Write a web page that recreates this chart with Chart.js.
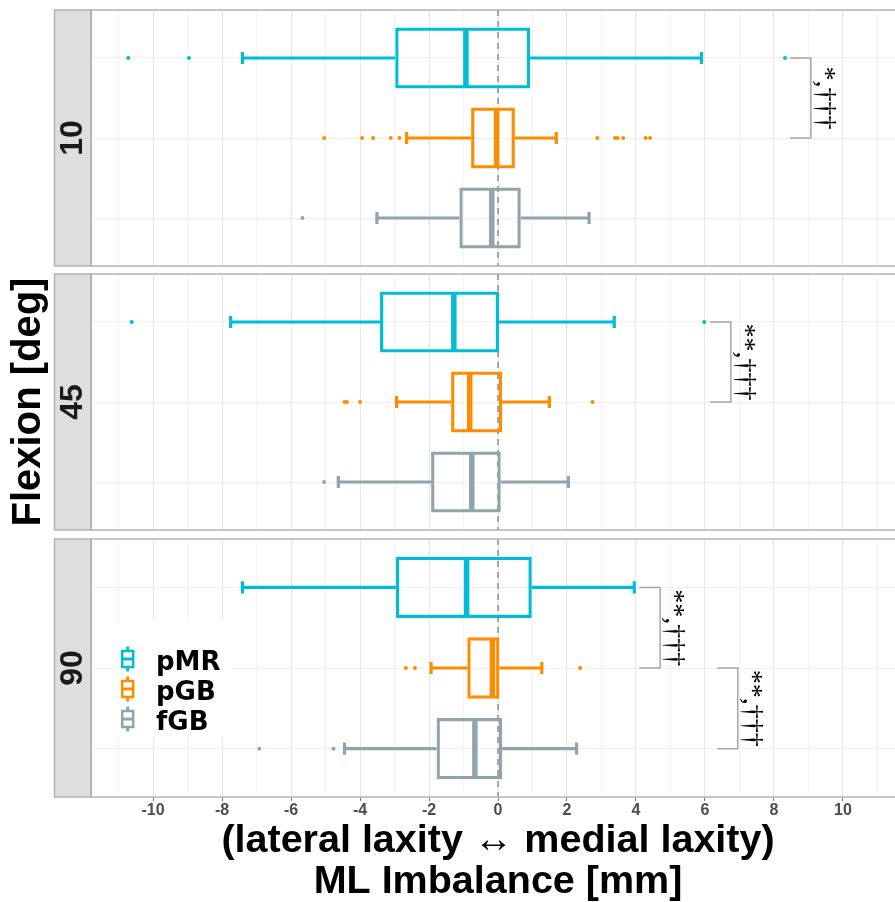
<!DOCTYPE html>
<html>
<head>
<meta charset="utf-8">
<title>ML Imbalance by flexion angle</title>
<script src="https://cdn.jsdelivr.net/npm/chart.js@4.4.1/dist/chart.umd.min.js"></script>
<style>
  html, body { margin: 0; padding: 0; background: #fff; width: 895px; height: 902px; overflow: hidden; position: relative; }
  canvas { position: absolute; left: 0; }
</style>
</head>
<body>
<canvas id="panel10" width="910" height="264" style="top:6px"></canvas>
<canvas id="panel45" width="910" height="264" style="top:270px"></canvas>
<canvas id="panel90" width="910" height="372" style="top:535px"></canvas>
<script>
const groups = ['pMR', 'pGB', 'fGB'];
const colors = ['#00BCD4', '#FF8C00', '#90A4AE'];
const xTickLabels = [-10, -8, -6, -4, -2, 0, 2, 4, 6, 8, 10];

// rows: pMR, pGB, fGB -> [lower whisker, Q1, median, Q3, upper whisker]
const box10 = [[-7.41, -2.98, -0.93, 0.93, 5.90], [-2.65, -0.78, -0.04, 0.49, 1.69], [-3.51, -1.12, -0.18, 0.66, 2.64]];
const box45 = [[-7.75, -3.42, -1.28, 0.03, 3.37], [-2.94, -1.36, -0.82, 0.12, 1.49], [-4.63, -1.94, -0.76, 0.08, 2.04]];
const box90 = [[-7.41, -2.96, -0.91, 0.98, 3.95], [-1.94, -0.89, -0.16, 0.04, 1.27], [-4.45, -1.78, -0.67, 0.12, 2.28]];

const out10 = [[-10.72, -8.96, 8.32], [-5.04, -3.94, -3.62, -3.11, -2.86, 2.88, 3.39, 3.47, 3.63, 4.28, 4.41], [-5.67]];
const out45 = [[-10.62, 5.98], [-4.45, -4.38, -4.0, 2.74], [-5.04]];
const out90 = [[], [-2.67, -2.41, 2.38], [-6.92, -4.77]];

// significance brackets: [group a, group b, bracket start, bracket end, label]
const sig10 = [[0, 1, 8.47, 9.07, '*,†††']];
const sig45 = [[0, 1, 6.15, 6.75, '**,†††']];
const sig90 = [[0, 1, 4.10, 4.70, '**,†††'], [1, 2, 6.36, 6.95, '**,†††']];

Chart.defaults.font.family = '"Liberation Sans", Arial, sans-serif';

const isEven = c => c.tick && c.tick.value % 2 === 0;

function drawLegend(ctx) {
  ctx.save();
  ctx.fillStyle = '#fff';
  ctx.fillRect(116, 86, 116, 117);
  groups.forEach((g, i) => {
    const cy = 124 + i * 30;
    ctx.strokeStyle = colors[i];
    ctx.lineWidth = 3;
    ctx.beginPath();
    ctx.moveTo(127.7, cy - 12.5); ctx.lineTo(127.7, cy - 8);
    ctx.moveTo(127.7, cy + 8); ctx.lineTo(127.7, cy + 12.5);
    ctx.moveTo(122.2, cy); ctx.lineTo(133.2, cy);
    ctx.stroke();
    ctx.lineWidth = 2.5;
    ctx.strokeRect(122.2, cy - 8, 11, 16);
    ctx.fillStyle = '#000';
    ctx.font = 'bold 26px "DejaVu Sans"';
    ctx.textAlign = 'left';
    ctx.textBaseline = 'alphabetic';
    ctx.fillText(g, 156, cy + 11);
  });
  ctx.restore();
}

function makePanel(id, label, box, out, sig, isBottom, hasYTitle) {
  const datasets = [{
    type: 'bar',
    indexAxis: 'y',
    label: 'box',
    data: box.map((b, i) => ({ x: [b[1], b[3]], y: i + 1 })),
    backgroundColor: 'rgba(0,0,0,0)',
    borderColor: colors,
    borderWidth: 3.2,
    borderSkipped: false,
    barPercentage: 0.76,
    categoryPercentage: 1
  }];
  out.forEach((vals, i) => datasets.push({
    type: 'scatter',
    label: groups[i],
    data: vals.map(v => ({ x: v, y: i + 1 })),
    backgroundColor: colors[i],
    borderWidth: 0,
    pointRadius: 2
  }));

  return new Chart(document.getElementById(id), {
    type: 'bar',
    data: { datasets },
    options: {
      responsive: false,
      animation: false,
      events: [],
      layout: { padding: { left: 0, right: 5, top: 2, bottom: isBottom ? 0 : 2 } },
      plugins: { legend: { display: false }, tooltip: { enabled: false } },
      scales: {
        x: {
          type: 'linear',
          min: -11.8,
          max: 11.8,
          offset: false,
          afterFit: s => { s.height = isBottom ? 110 : 0; },
          border: { display: false },
          grid: {
            offset: false,
            color: c => isEven(c) ? '#e6e6e6' : '#f3f3f3',
            lineWidth: 1,
            drawTicks: isBottom,
            tickLength: 4,
            tickColor: c => isEven(c) ? '#7f7f7f' : 'rgba(0,0,0,0)'
          },
          ticks: {
            display: isBottom,
            stepSize: 1,
            includeBounds: false,
            autoSkip: false,
            maxRotation: 0,
            padding: 0,
            color: '#4d4d4d',
            font: { size: 16, weight: 'bold' },
            callback: v => xTickLabels.includes(v) ? String(v) : ''
          },
          title: {
            display: isBottom,
            text: ['(lateral laxity \u2194 medial laxity)', 'ML Imbalance [mm]'],
            color: '#000',
            font: { size: 39.5, weight: 'bold', lineHeight: 1.04 },
            padding: { top: 0, bottom: 4 }
          }
        },
        y: {
          type: 'linear',
          min: 0.4,
          max: 3.6,
          reverse: true,
          offset: false,
          afterFit: s => { s.width = 91; },
          border: { display: false },
          grid: { offset: false, color: '#efefef', drawTicks: false },
          ticks: { display: false, stepSize: 1, includeBounds: false },
          title: {
            display: hasYTitle,
            text: 'Flexion [deg]',
            color: '#000',
            font: { size: 40, weight: 'bold' },
            padding: { top: 5, bottom: 0 }
          }
        }
      }
    },
    plugins: [{
      id: 'facet',
      beforeDatasetsDraw(chart) {
        const { ctx, chartArea: a, scales: { x } } = chart;
        const p0 = x.getPixelForValue(0);
        ctx.save();
        ctx.strokeStyle = '#8c8c8c';
        ctx.lineWidth = 1.5;
        ctx.setLineDash([6, 5]);
        ctx.beginPath();
        ctx.moveTo(p0, a.top);
        ctx.lineTo(p0, a.bottom);
        ctx.stroke();
        ctx.restore();
      },
      afterDatasetsDraw(chart) {
        const { ctx, scales: { x, y } } = chart;
        ctx.save();
        box.forEach((b, i) => {
          const yc = y.getPixelForValue(i + 1);
          const capH = Math.abs(y.getPixelForValue(i + 1.075) - yc);
          const boxH = Math.abs(y.getPixelForValue(i + 1.38) - yc);
          ctx.strokeStyle = colors[i];
          ctx.lineWidth = 3.2;
          ctx.beginPath();
          ctx.moveTo(x.getPixelForValue(b[0]), yc); ctx.lineTo(x.getPixelForValue(b[1]), yc);
          ctx.moveTo(x.getPixelForValue(b[3]), yc); ctx.lineTo(x.getPixelForValue(b[4]), yc);
          [b[0], b[4]].forEach(v => {
            const p = x.getPixelForValue(v);
            ctx.moveTo(p, yc - capH); ctx.lineTo(p, yc + capH);
          });
          ctx.stroke();
          const m = x.getPixelForValue(b[2]);
          ctx.lineWidth = 5.5;
          ctx.beginPath();
          ctx.moveTo(m, yc - boxH + 1.5);
          ctx.lineTo(m, yc + boxH - 1.5);
          ctx.stroke();
        });
        sig.forEach(([ga, gb, x1, x2, text]) => {
          const ya = y.getPixelForValue(ga + 1), yb = y.getPixelForValue(gb + 1);
          const p1 = x.getPixelForValue(x1), p2 = x.getPixelForValue(x2);
          ctx.strokeStyle = '#a6a6a6';
          ctx.lineWidth = 1.5;
          ctx.beginPath();
          ctx.moveTo(p1, ya); ctx.lineTo(p2, ya); ctx.lineTo(p2, yb); ctx.lineTo(p1, yb);
          ctx.stroke();
          ctx.save();
          ctx.translate(p2 + 6, (ya + yb) / 2);
          ctx.rotate(Math.PI / 2);
          ctx.fillStyle = '#000';
          ctx.font = '28px "Liberation Serif"';
          ctx.textAlign = 'center';
          ctx.textBaseline = 'alphabetic';
          ctx.fillText(text, 0, 0);
          ctx.restore();
        });
        ctx.restore();
      },
      afterDraw(chart) {
        const { ctx, chartArea: a } = chart;
        const stripW = 36.5;
        ctx.save();
        ctx.fillStyle = '#dedede';
        ctx.fillRect(a.left - stripW, a.top, stripW, a.bottom - a.top);
        ctx.strokeStyle = '#b3b3b3';
        ctx.lineWidth = 1.5;
        ctx.strokeRect(a.left - stripW, a.top, stripW, a.bottom - a.top);
        ctx.strokeRect(a.left, a.top, a.right - a.left, a.bottom - a.top);
        ctx.translate(a.left - stripW / 2, (a.top + a.bottom) / 2);
        ctx.rotate(-Math.PI / 2);
        ctx.fillStyle = '#1a1a1a';
        ctx.font = 'bold 32px "Liberation Sans"';
        ctx.textAlign = 'center';
        ctx.textBaseline = 'middle';
        ctx.fillText(label, 0, 0);
        ctx.restore();
        if (isBottom) drawLegend(ctx);
      }
    }]
  });
}

makePanel('panel10', '10', box10, out10, sig10, false, false);
makePanel('panel45', '45', box45, out45, sig45, false, true);
makePanel('panel90', '90', box90, out90, sig90, true, false);
</script>
</body>
</html>
